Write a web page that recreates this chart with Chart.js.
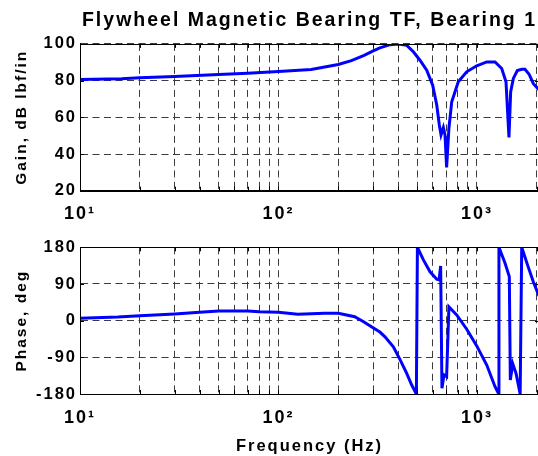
<!DOCTYPE html>
<html><head><meta charset="utf-8">
<script src="https://cdn.jsdelivr.net/npm/chart.js@4.4.0/dist/chart.umd.min.js"></script>
<style>
html,body{margin:0;padding:0;background:#fff;overflow:hidden;width:538px;height:456px;}
.box{position:absolute;left:0;width:580px;}
</style></head><body>
<div style="position:relative;width:538px;height:456px;overflow:hidden;">
<div class="box" style="top:0;height:225px"><canvas id="c1"></canvas></div>
<div class="box" style="top:225px;height:231px"><canvas id="c2"></canvas></div>
</div>
<script>
const chartTitle = 'Flywheel Magnetic Bearing TF, Bearing 1';
const gainLabel = 'Gain, dB lbf/in';
const phaseLabel = 'Phase, deg';
const freqLabel = 'Frequency (Hz)';

const xTickValues = [10,20,30,40,50,60,70,80,90,100,200,300,400,500,600,700,800,900,1000,2000];
const xTickLabels = {10:'10¹',100:'10²',1000:'10³'};
const gainTicks = [20,40,60,80,100];
const phaseTicks = [-180,-90,0,90,180];

const gainFreq = [10,16.2,20,30,50,70,100,146,200,233,270,300,324,365,402,443,478,516,558,598,627,646,659,677,690,703,722,746,805,887,997,1120,1233,1332,1400,1449,1478,1525,1597,1680,1745,1830,1924,2028,2053];
const gainDb   = [80.6,81.0,81.5,82.2,83.3,84.0,85.0,86.1,88.8,90.9,93.8,96.2,97.8,99.6,100,99.2,95.7,91.1,85.7,77.5,66.7,55.8,50.4,54.4,50.4,32.7,54,68.5,79.4,84.8,88.1,90.2,90.2,86.6,79.4,49,74,81.2,85.5,86.2,86.2,83.5,78.3,75.6,75];

const phaseFreq = [10,15.5,20,30,40,50,70,80,100,125,171,200,242,267,294,324,343,379,409,442,469,495,501,537,580,627,644,656,666,682,703,722,790,888,997,1120,1233,1281,1290,1385,1455,1472,1514,1572,1650,1680,1811,1922,2028,2053];
const phaseDeg  = [5.7,9,12.3,16.4,20.5,23.7,23.7,22,20.5,15.6,18,18,9.8,-2,-15,-28,-39,-64,-95,-129,-158,-180,180,149,120,101.5,100,134,-166,-133,-137.5,34,14,-21,-62,-109,-162,-178,180,140.7,108,-145.6,-106,-129,-180,180,132,95.6,67,61];

const gainPts = gainFreq.map((f,i)=>({x:f,y:gainDb[i]}));
const phasePts = phaseFreq.map((f,i)=>({x:f,y:phaseDeg[i]}));

const FONT = '"Liberation Sans", Arial, Helvetica, sans-serif';
const SPACING = '2px';

const boxPlugin = {
  id:'boxPlugin',
  beforeUpdate(chart){ chart.ctx.letterSpacing = SPACING; },
  beforeLayout(chart){ chart.ctx.letterSpacing = SPACING; },
  beforeDraw(chart){ chart.ctx.letterSpacing = SPACING; },
  afterDraw(chart){
    const {ctx, chartArea:a, scales} = chart;
    ctx.save();
    ctx.strokeStyle = '#000';
    ctx.lineWidth = 1;
    ctx.beginPath();
    const xs = scales.x, ys = scales.y;
    xs.ticks.forEach(t=>{
      const px = Math.round(xs.getPixelForValue(t.value)) + 0.5;
      ctx.moveTo(px, a.bottom); ctx.lineTo(px, a.bottom-4);
      ctx.moveTo(px, a.top); ctx.lineTo(px, a.top+4);
    });
    ys.ticks.forEach(t=>{
      const py = Math.round(ys.getPixelForValue(t.value)) + 0.5;
      ctx.moveTo(a.left, py); ctx.lineTo(a.left+4, py);
      ctx.moveTo(a.right, py); ctx.lineTo(a.right-4, py);
    });
    ctx.stroke();
    ctx.strokeRect(Math.round(a.left)+0.5, Math.round(a.top)+0.5, Math.round(a.right-a.left), Math.round(a.bottom-a.top));
    ctx.restore();
  }
};

function makeChart(id, pts, yOpts, yLabel, opts){
  return new Chart(document.getElementById(id), {
    type:'line',
    data:{datasets:[{data:pts, borderColor:'#0000ff', borderWidth:3, pointRadius:0, tension:0, fill:false}]},
    options:{
      responsive:true, maintainAspectRatio:false, animation:false,
      layout:{padding:opts.padding},
      plugins:{
        legend:{display:false}, tooltip:{enabled:false},
        title:opts.title
      },
      scales:{
        x:{
          type:'logarithmic', min:10, max:2053,
          afterBuildTicks(s){ s.ticks = xTickValues.map(v=>({value:v})); },
          afterFit(s){ s.height = opts.xHeight; },
          ticks:{autoSkip:false, maxRotation:0, padding:opts.xTickPad, color:'#000',
            font:{family:FONT, size:18, weight:'bold'},
            callback(v){ return xTickLabels[v] || ''; }},
          grid:{color:'#3c3c3c', lineWidth:1, drawTicks:false},
          border:{display:true, color:'#000', width:1, dash:[7,4.5]},
          title:opts.xTitle
        },
        y:{
          min:yOpts.min, max:yOpts.max,
          afterBuildTicks(s){ s.ticks = yOpts.ticks.map(v=>({value:v})); },
          afterFit(s){ s.width = 80; },
          ticks:{color:'#000', padding:3, font:{family:FONT, size:16.5, weight:'bold'}},
          grid:{color:'#3c3c3c', lineWidth:1, drawTicks:false},
          border:{display:true, color:'#000', width:1, dash:[7,4.5]},
          title:{display:true, text:yLabel, color:'#000', padding:{top:12,bottom:0},
            font:{family:FONT, size:15.5, weight:'bold'}}
        }
      }
    },
    plugins:[boxPlugin]
  });
}

makeChart('c1', gainPts, {min:20,max:100,ticks:gainTicks}, gainLabel, {
  padding:{top:9,right:41,left:0,bottom:0},
  xHeight:34.3, xTickPad:12.5,
  title:{display:true, text:chartTitle, fullSize:false, color:'#000', padding:{top:0,bottom:11.5},
    font:{family:FONT, size:19.5, weight:'bold'}},
  xTitle:{display:false}
});

makeChart('c2', phasePts, {min:-180,max:180,ticks:phaseTicks}, phaseLabel, {
  padding:{top:22.3,right:41,left:0,bottom:0},
  xHeight:62, xTickPad:13,
  title:{display:false},
  xTitle:{display:true, text:freqLabel, color:'#000', padding:{top:1,bottom:0},
    font:{family:FONT, size:16.5, weight:'bold'}}
});
</script>
</body></html>
